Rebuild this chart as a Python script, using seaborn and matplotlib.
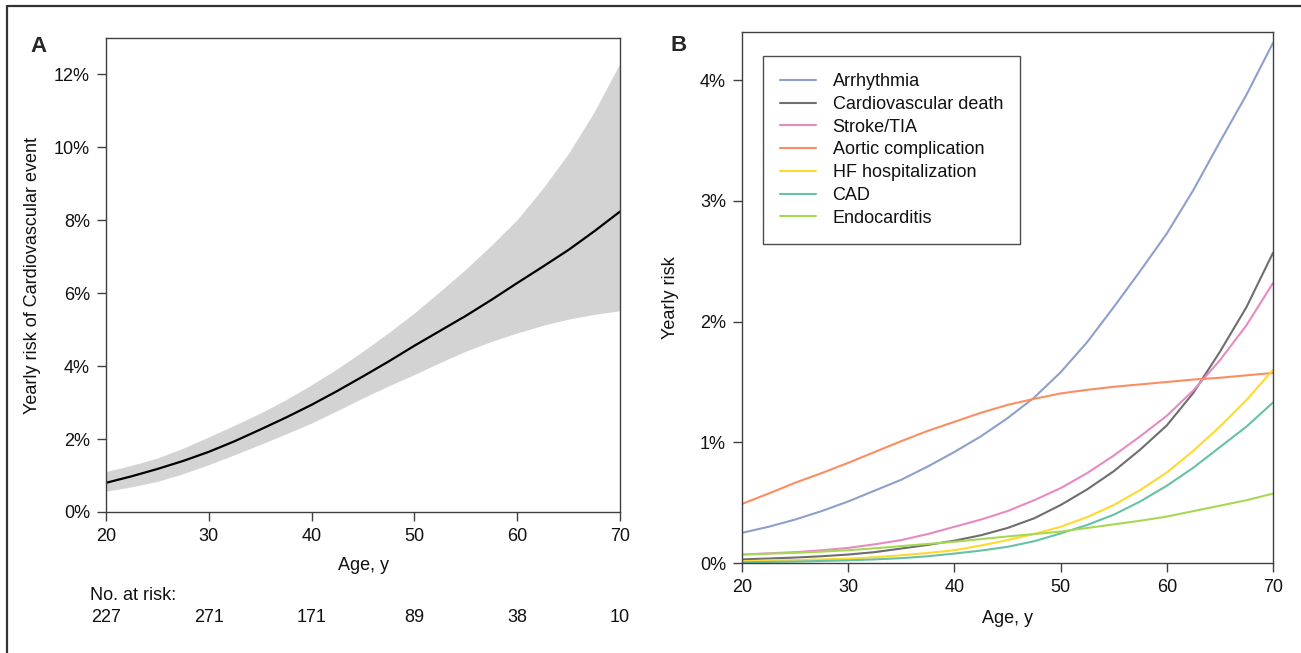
import numpy as np
import pandas as pd
import seaborn as sns
import matplotlib.pyplot as plt
from matplotlib.lines import Line2D

# age grid the curves were read at
ages = [20, 22.5, 25, 27.5, 30, 32.5, 35, 37.5, 40, 42.5, 45, 47.5, 50,
        52.5, 55, 57.5, 60, 62.5, 65, 67.5, 70]

# panel A: yearly risk of cardiovascular event (%) with confidence band
risk_mid = [0.80, 0.98, 1.18, 1.40, 1.65, 1.94, 2.26, 2.59, 2.94, 3.32, 3.72,
            4.13, 4.56, 4.97, 5.38, 5.82, 6.28, 6.73, 7.19, 7.70, 8.24]
risk_upper = [1.11, 1.28, 1.48, 1.75, 2.06, 2.38, 2.71, 3.08, 3.49, 3.93, 4.41,
              4.92, 5.46, 6.05, 6.66, 7.32, 8.02, 8.88, 9.84, 10.98, 12.31]
risk_lower = [0.57, 0.69, 0.84, 1.05, 1.30, 1.57, 1.85, 2.14, 2.44, 2.78, 3.13,
              3.46, 3.77, 4.10, 4.41, 4.68, 4.91, 5.12, 5.29, 5.42, 5.52]

risk_ages = [20, 30, 40, 50, 60, 70]
at_risk = [227, 271, 171, 89, 38, 10]

# panel B: yearly risk per event type (%)
events = ["Arrhythmia", "Cardiovascular death", "Stroke/TIA", "Aortic complication",
          "HF hospitalization", "CAD", "Endocarditis"]
arrhythmia = [0.25, 0.30, 0.36, 0.43, 0.51, 0.60, 0.69, 0.80, 0.92, 1.05, 1.20,
              1.37, 1.58, 1.83, 2.12, 2.42, 2.73, 3.09, 3.49, 3.88, 4.31]
cv_death = [0.03, 0.037, 0.045, 0.056, 0.07, 0.09, 0.12, 0.15, 0.185, 0.23, 0.29,
            0.37, 0.48, 0.61, 0.76, 0.94, 1.14, 1.41, 1.75, 2.12, 2.57]
stroke = [0.07, 0.08, 0.09, 0.105, 0.125, 0.155, 0.19, 0.24, 0.30, 0.36, 0.43,
          0.52, 0.62, 0.745, 0.89, 1.05, 1.22, 1.43, 1.68, 1.97, 2.32]
aortic = [0.49, 0.575, 0.665, 0.745, 0.83, 0.92, 1.01, 1.095, 1.17, 1.245, 1.31,
          1.36, 1.405, 1.435, 1.46, 1.48, 1.50, 1.52, 1.535, 1.555, 1.575]
hf_hosp = [0.015, 0.02, 0.025, 0.03, 0.036, 0.048, 0.064, 0.083, 0.106, 0.145, 0.19,
           0.24, 0.30, 0.38, 0.48, 0.605, 0.75, 0.93, 1.13, 1.35, 1.60]
cad = [0.006, 0.009, 0.012, 0.017, 0.022, 0.03, 0.04, 0.056, 0.078, 0.103, 0.134,
       0.18, 0.245, 0.315, 0.40, 0.51, 0.64, 0.79, 0.96, 1.13, 1.33]
endocarditis = [0.07, 0.077, 0.084, 0.094, 0.106, 0.122, 0.14, 0.158, 0.176, 0.198, 0.22,
                0.24, 0.26, 0.29, 0.32, 0.35, 0.385, 0.43, 0.475, 0.52, 0.575]

colors = ["#8DA0CB", "#6E6E6E", "#E78AC3", "#FC8D62", "#FFD92F", "#66C2A5", "#A6D854"]

sns.set_theme(style="ticks")
plt.rcParams['font.family'] = ['Liberation Sans', 'DejaVu Sans']
plt.rcParams['font.size'] = 13
spine_col = "#404040"
text_col = "#111111"

W, H = 1301, 653
fig = plt.figure(figsize=(W / 100, H / 100), dpi=100)


def px_axes(left, top, right, bottom):
    return fig.add_axes([left / W, 1 - bottom / H, (right - left) / W, (bottom - top) / H])


def style_axes(ax):
    for s in ax.spines.values():
        s.set_visible(True)
        s.set_color(spine_col)
        s.set_linewidth(1.0)
    ax.tick_params(axis="both", direction="out", length=6.5, width=1.0, color=spine_col,
                   labelsize=13, pad=5, labelcolor=text_col)


# ---- panel A ----
axa = px_axes(106, 38, 620, 512)
axa.fill_between(ages, risk_lower, risk_upper, color="#D3D3D3", linewidth=0)
sns.lineplot(x=ages, y=risk_mid, color="black", linewidth=1.6, ax=axa)
axa.set_xlim(20, 70)
axa.set_ylim(0, 13)
axa.set_xticks(risk_ages)
axa.set_yticks([0, 2, 4, 6, 8, 10, 12])
axa.set_yticklabels([f"{v}%" for v in [0, 2, 4, 6, 8, 10, 12]])
style_axes(axa)
axa.set_xlabel("Age, y", fontsize=13, color=text_col)
axa.xaxis.set_label_coords(0.5, -0.095)
axa.set_ylabel("Yearly risk of Cardiovascular event", fontsize=13, color=text_col)
axa.yaxis.set_label_coords(-0.126, 0.5)

trans = axa.get_xaxis_transform()
axa.text(risk_ages[0] - 16 / 10.28, (512 - 595) / 474, "No. at risk:", transform=trans,
         ha="left", va="center", fontsize=13, color=text_col)
for a, n in zip(risk_ages, at_risk):
    axa.text(a, (512 - 617) / 474, str(n), transform=trans, ha="center", va="center",
             fontsize=13, color=text_col)

# ---- panel B ----
axb = px_axes(742, 32, 1273, 563)
df_b = pd.DataFrame({"age": ages * len(events),
                     "risk": arrhythmia + cv_death + stroke + aortic + hf_hosp + cad + endocarditis,
                     "event": np.repeat(events, len(ages))})
sns.lineplot(data=df_b, x="age", y="risk", hue="event", hue_order=events,
             palette=dict(zip(events, colors)), linewidth=1.5, ax=axb)
axb.set_xlim(20, 70)
axb.set_ylim(0, 4.4)
axb.set_xticks(risk_ages)
axb.set_yticks([0, 1, 2, 3, 4])
axb.set_yticklabels([f"{v}%" for v in [0, 1, 2, 3, 4]])
style_axes(axb)
axb.set_xlabel("Age, y", fontsize=13, color=text_col)
axb.xaxis.set_label_coords(0.5, -0.088)
axb.set_ylabel("Yearly risk", fontsize=13, color=text_col)
axb.yaxis.set_label_coords(-0.119, 0.5)

handles, labels = axb.get_legend_handles_labels()
leg = axb.legend(handles, labels, loc="upper left", bbox_to_anchor=(21 / 531, (563 - 56) / 531),
                 borderaxespad=0, fancybox=False, frameon=True, fontsize=13,
                 handlelength=2.0, handletextpad=0.9, borderpad=0.95, labelspacing=0.32)
leg.get_frame().set_edgecolor("#222222")
leg.get_frame().set_linewidth(1.0)
for t in leg.get_texts():
    t.set_color(text_col)

# panel letters
fig.text(30 / W, 1 - 36 / H, "A", fontsize=16, fontweight="bold", ha="left", va="top")
fig.text(670 / W, 1 - 35 / H, "B", fontsize=16, fontweight="bold", ha="left", va="top")

# outer frame (only top and left edges are visible in the crop)
fig.add_artist(Line2D([7 / W, 7 / W], [0, 1 - 6 / H], color="#333333", linewidth=1.6))
fig.add_artist(Line2D([7 / W, 1], [1 - 6 / H, 1 - 6 / H], color="#333333", linewidth=1.6))

fig.savefig("out.png", dpi=100)
